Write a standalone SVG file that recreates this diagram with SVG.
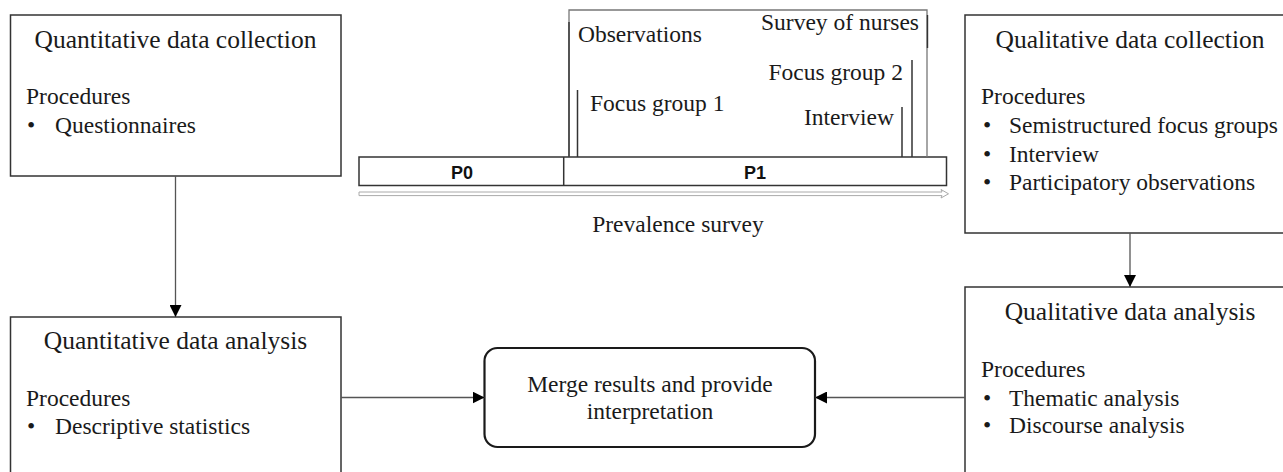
<svg xmlns="http://www.w3.org/2000/svg" width="1283" height="472" viewBox="0 0 1283 472">
<style>
.box{fill:#fff;stroke:#333;stroke-width:1.5}
.merge{fill:#fff;stroke:#1a1a1a;stroke-width:2.2}
.t{font-family:"Liberation Serif","Times New Roman",serif;fill:#1a1a1a}
.title{font-size:25.5px}
.body{font-size:23.5px}
.mid{text-anchor:middle}
.end{text-anchor:end}
.conn{stroke:#555;stroke-width:1.3;fill:none}
.tl{stroke:#333;stroke-width:1.5;fill:none}
.pb{font-family:"Liberation Sans",Arial,sans-serif;font-weight:bold;font-size:18px;fill:#111;text-anchor:middle}
</style>
<defs>
<marker id="ah" markerUnits="userSpaceOnUse" markerWidth="12" markerHeight="12" refX="12" refY="6" orient="auto">
<path d="M0,0 L12,6 L0,12 Z" fill="#000"/>
</marker>
</defs>

<g id="quant-collection">
<rect class="box" x="10.5" y="15" width="330.5" height="161"/>
<text class="t title mid" x="175.5" y="48">Quantitative data collection</text>
<text class="t body" x="26" y="104">Procedures</text>
<text class="t body" x="27" y="133">•</text>
<text class="t body" x="55" y="133">Questionnaires</text>
</g>

<g id="quant-analysis">
<rect class="box" x="10.5" y="317" width="330.5" height="170"/>
<text class="t title mid" x="175.5" y="349">Quantitative data analysis</text>
<text class="t body" x="26" y="406">Procedures</text>
<text class="t body" x="27" y="434">•</text>
<text class="t body" x="55" y="434">Descriptive statistics</text>
</g>

<g id="qual-collection">
<rect class="box" x="965" y="15" width="330" height="218"/>
<text class="t title mid" x="1130" y="48">Qualitative data collection</text>
<text class="t body" x="981" y="104">Procedures</text>
<text class="t body" x="983" y="133">•</text>
<text class="t body" x="1009" y="133">Semistructured focus groups</text>
<text class="t body" x="983" y="162">•</text>
<text class="t body" x="1009" y="162">Interview</text>
<text class="t body" x="983" y="190">•</text>
<text class="t body" x="1009" y="190">Participatory observations</text>
</g>

<g id="qual-analysis">
<rect class="box" x="965" y="287" width="330" height="200"/>
<text class="t title mid" x="1130" y="320">Qualitative data analysis</text>
<text class="t body" x="981" y="377">Procedures</text>
<text class="t body" x="983" y="406">•</text>
<text class="t body" x="1009" y="406">Thematic analysis</text>
<text class="t body" x="983" y="433">•</text>
<text class="t body" x="1009" y="433">Discourse analysis</text>
</g>

<g id="merge">
<rect class="merge" x="484.5" y="348" width="330.5" height="99" rx="13" ry="13"/>
<text class="t body mid" x="650" y="392">Merge results and provide</text>
<text class="t body mid" x="650" y="419">interpretation</text>
</g>

<g id="timeline">
<rect class="tl" x="359" y="157" width="587.5" height="28.5" fill="#fff"/>
<line class="tl" x1="563.7" y1="157" x2="563.7" y2="185.5"/>
<text class="pb" x="462" y="179">P0</text>
<text class="pb" x="755" y="179">P1</text>
<polyline points="569,157 569,10 927,10 927,157" fill="none" stroke="#777" stroke-width="1.3"/>
<line x1="569" y1="22" x2="569" y2="157" stroke="#333" stroke-width="1.4"/>
<line x1="927.5" y1="15" x2="927.5" y2="48" stroke="#333" stroke-width="1.4"/>
<line class="tl" x1="577.5" y1="90" x2="577.5" y2="157"/>
<line class="tl" x1="912" y1="60" x2="912" y2="157"/>
<line class="tl" x1="902" y1="107" x2="902" y2="157"/>
<text class="t body" x="578" y="42">Observations</text>
<text class="t body end" x="919" y="30">Survey of nurses</text>
<text class="t body end" x="903" y="80">Focus group 2</text>
<text class="t body" x="590" y="111">Focus group 1</text>
<text class="t body end" x="894" y="125">Interview</text>
<path d="M359,192 H942 L941,189.5 L948.5,193.8 L941,198 L942,195.6 H359 Z" fill="#fff" stroke="#aaa" stroke-width="1"/>
<text class="t body mid" x="678" y="232">Prevalence survey</text>
</g>

<g id="connectors">
<line class="conn" x1="175.5" y1="176" x2="175.5" y2="317" marker-end="url(#ah)"/>
<line class="conn" x1="1130" y1="233" x2="1130" y2="287" marker-end="url(#ah)"/>
<line class="conn" x1="341" y1="397.5" x2="484.5" y2="397.5" marker-end="url(#ah)"/>
<line class="conn" x1="965" y1="397.5" x2="815" y2="397.5" marker-end="url(#ah)"/>
</g>
</svg>
